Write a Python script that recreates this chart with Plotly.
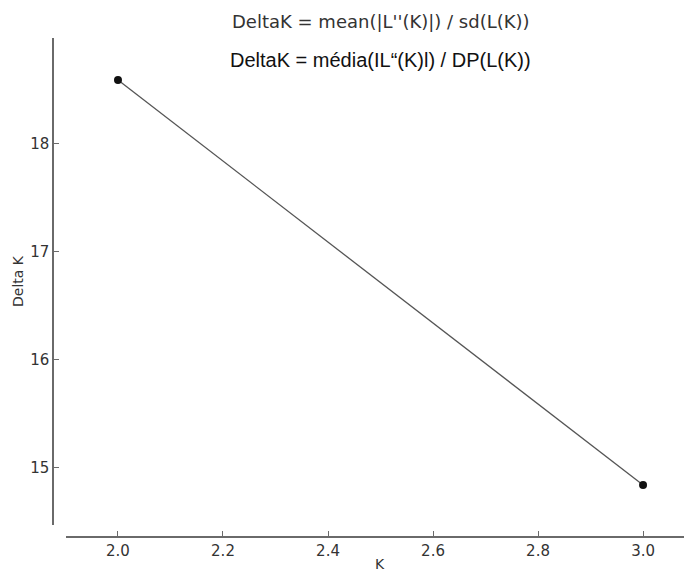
import plotly.graph_objects as go

# Delta K values for each K
k_values = [2.0, 3.0]
delta_k = [18.59, 14.84]

x_ticks = [2.0, 2.2, 2.4, 2.6, 2.8, 3.0]
x_tick_labels = ["2.0", "2.2", "2.4", "2.6", "2.8", "3.0"]
y_ticks = [15, 16, 17, 18]
y_tick_labels = ["15", "16", "17", "18"]

W, H = 684, 571
axis_color = "#6a6a6a"
text_color = "#333333"

fig = go.Figure()
fig.add_trace(go.Scatter(
    x=k_values, y=delta_k,
    mode="lines+markers",
    line=dict(color="#555555", width=1.3),
    marker=dict(color="#111111", size=8),
    showlegend=False,
))


def label(text, x, y, size, family="DejaVu Sans", color=text_color, angle=0):
    return dict(text=text, textangle=angle,
                x=x / W, y=1 - y / H, xref="paper", yref="paper",
                xanchor="center", yanchor="middle",
                showarrow=False, font=dict(family=family, size=size, color=color))


fig.update_layout(
    width=W, height=H,
    margin=dict(l=0, r=0, t=0, b=0),
    paper_bgcolor="white", plot_bgcolor="white",
    font=dict(family="DejaVu Sans", color=text_color, size=15),
    xaxis=dict(
        domain=[66 / W, 1.0],
        range=[1.901, 3.078],
        anchor="free", position=1 - 537 / H,
        showline=True, linecolor=axis_color, linewidth=1.5,
        ticks="inside", ticklen=5, tickcolor=axis_color, tickwidth=1,
        tickvals=x_ticks, ticktext=x_tick_labels,
        showgrid=False, zeroline=False,
    ),
    yaxis=dict(
        domain=[1 - 525 / H, 1 - 38 / H],
        range=[14.47, 18.98],
        anchor="free", position=53 / W,
        showline=True, linecolor=axis_color, linewidth=1.5,
        ticks="inside", ticklen=5, tickcolor=axis_color, tickwidth=1,
        tickvals=y_ticks, ticktext=y_tick_labels,
        showgrid=False, zeroline=False,
    ),
    annotations=[
        label("DeltaK = mean(|L''(K)|) / sd(L(K))", 381, 21, 18),
        label("DeltaK = média(IL“(K)l) / DP(L(K))", 381, 60, 20,
              family="Liberation Sans", color="#111111"),
        label("Delta K", 18, 281, 14, angle=-90),
        label("K", 380, 564, 14),
    ],
)

fig.write_html("out.html")
